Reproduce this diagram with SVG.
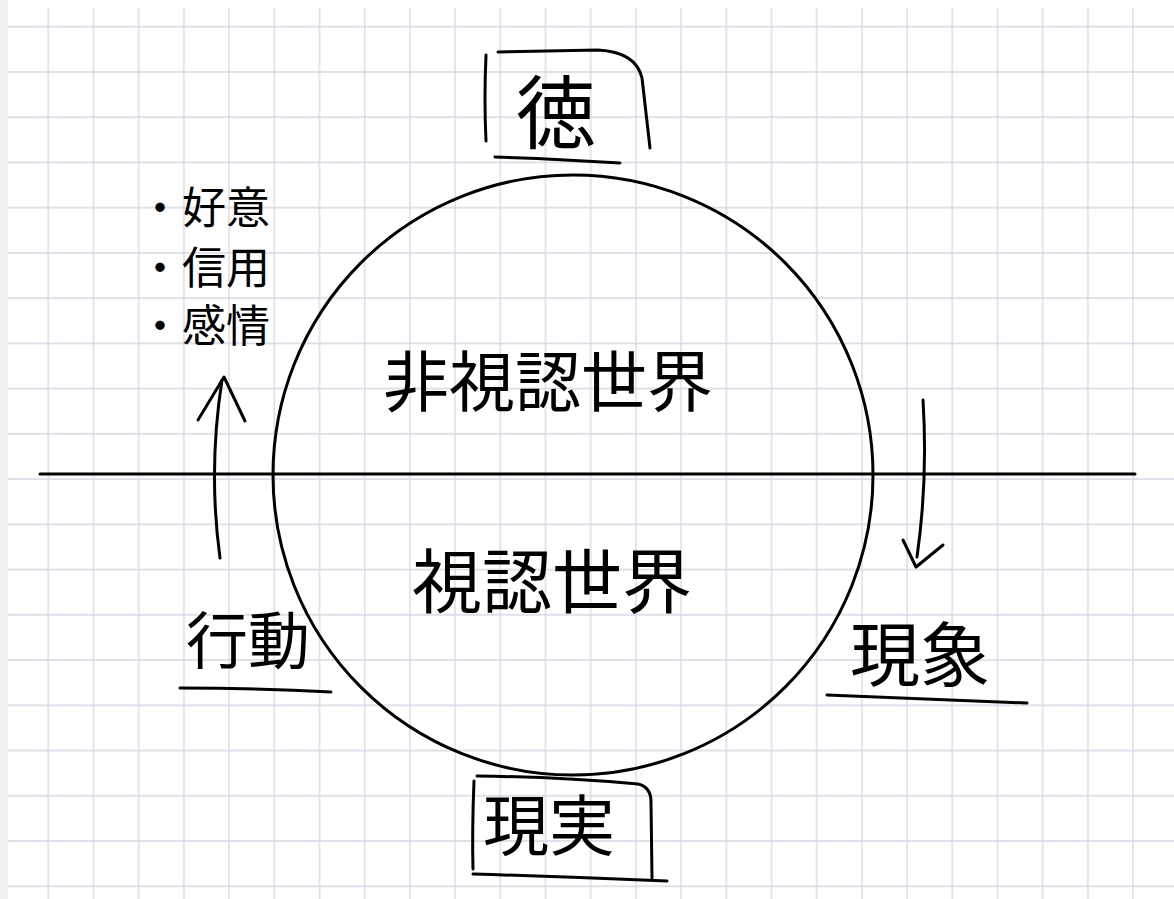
<svg xmlns="http://www.w3.org/2000/svg" width="1174" height="899" viewBox="0 0 1174 899">
<style>
.ink{fill:none;stroke:#000;stroke-width:3;stroke-linecap:round;stroke-linejoin:round}
.t{font-family:"Noto Sans CJK JP","Noto Sans CJK SC",sans-serif;fill:#000}
</style>
<defs>
<pattern id="grid" patternUnits="userSpaceOnUse" x="25.7" y="4.08" width="45.2" height="45.24">
<path d="M22.6 0V45.24M0 22.62H45.2" stroke="#d6d6e2" stroke-width="1.3" fill="none"/>
</pattern>
</defs>
<rect width="1174" height="899" fill="#fff"/>
<rect x="0" y="0" width="8" height="899" fill="#f1f1f1"/>
<rect x="8" y="8" width="1166" height="891" fill="url(#grid)"/>

<g id="world">
<circle cx="573" cy="475" r="300" class="ink" stroke-width="2.6"/>
<text class="t" x="548" y="406" font-size="66" text-anchor="middle">非視認世界</text>
<text class="t" x="552" y="608" font-size="70" text-anchor="middle">視認世界</text>
</g>

<g id="toku">
<path class="ink" d="M486 55 Q484 100 486 141"/>
<path class="ink" d="M495 157 Q560 159 620 163"/>
<path class="ink" d="M498 52 L598 50 Q636 52 642 78 L650 148"/>
<text class="t" x="556" y="142" font-size="80" text-anchor="middle">徳</text>
</g>

<g id="genjitsu">
<path class="ink" d="M477 776 Q560 777 638 784 Q651 787 651 802 L652 878"/>
<path class="ink" d="M474 781 Q472 830 473 869"/>
<path class="ink" d="M473 874 Q570 877 667 881"/>
<text class="t" x="549" y="850" font-size="66" text-anchor="middle">現実</text>
</g>

<g id="gensho">
<text class="t" x="920" y="681" font-size="70" text-anchor="middle">現象</text>
<path class="ink" d="M827 695 Q930 699 1027 703"/>
</g>

<g id="kodo">
<text class="t" x="248" y="664" font-size="62" text-anchor="middle">行動</text>
<path class="ink" d="M180 688 Q260 688 331 692"/>
</g>

<g id="list">
<text class="t" x="138" y="224" font-size="44">・好意</text>
<text class="t" x="138" y="284" font-size="44">・信用</text>
<text class="t" x="138" y="342" font-size="44">・感情</text>
</g>

<g id="connectors">
<path class="ink" d="M40 474 L1135 474"/>
<path class="ink" d="M220 558 Q208 470 222 380"/>
<path class="ink" d="M198 420 L224 377 L245 421"/>
<path class="ink" d="M923 400 Q928 480 917 557"/>
<path class="ink" d="M903 540 L916 567 L943 545"/>
</g>
</svg>
